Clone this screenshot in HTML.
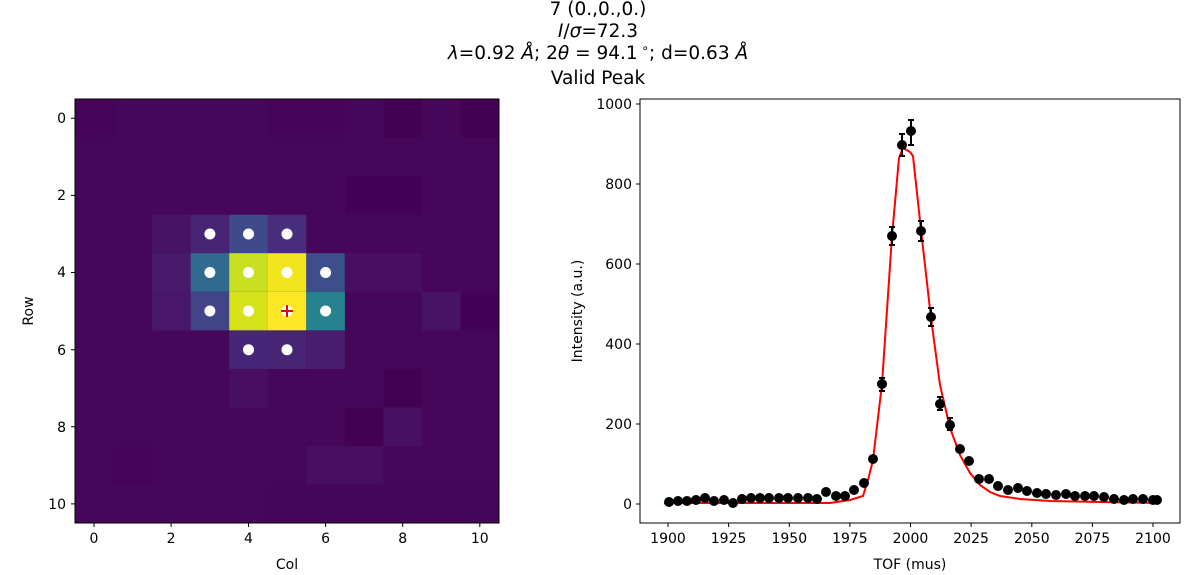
<!DOCTYPE html>
<html><head><meta charset="utf-8"><style>body{margin:0;background:#fff}svg{display:block}text{font-family:"DejaVu Sans","Liberation Sans",sans-serif;fill:#000}</style></head><body>
<svg width="1188" height="575" viewBox="0 0 1188 575" xmlns="http://www.w3.org/2000/svg">
<g font-size="18.5" text-anchor="middle">
<text x="598" y="15">7 (0.,0.,0.)</text>
<text x="598" y="37"><tspan font-style="italic">I</tspan>/<tspan font-style="italic">σ</tspan>=72.3</text>
<text x="598" y="59" text-anchor="middle"><tspan font-style="italic">λ</tspan>=0.92 <tspan font-style="italic">Å</tspan>; 2<tspan font-style="italic">θ</tspan> = 94.1<tspan font-size="12" dy="-7"> ∘</tspan><tspan dy="7">; d=0.63 </tspan><tspan font-style="italic">Å</tspan></text>
<text x="598" y="84">Valid Peak</text>
</g>
<rect x="75" y="99" width="424" height="424" fill="#46075a"/>
<g>
<rect x="75" y="99" width="38.6" height="38.6" fill="#450457"/>
<rect x="267.7" y="99" width="77.1" height="38.6" fill="#450457"/>
<rect x="383.4" y="99" width="38.6" height="38.6" fill="#440154"/>
<rect x="460.5" y="99" width="38.6" height="38.6" fill="#440154"/>
<rect x="344.8" y="176.1" width="77.1" height="38.6" fill="#440256"/>
<rect x="152.1" y="214.7" width="38.6" height="38.6" fill="#471365"/>
<rect x="190.7" y="214.7" width="38.6" height="38.6" fill="#482475"/>
<rect x="229.2" y="214.7" width="38.6" height="38.6" fill="#3e4a89"/>
<rect x="267.7" y="214.7" width="38.6" height="38.6" fill="#472d7b"/>
<rect x="152.1" y="253.2" width="38.6" height="38.6" fill="#481a6c"/>
<rect x="190.7" y="253.2" width="38.6" height="38.6" fill="#306a8e"/>
<rect x="229.2" y="253.2" width="38.6" height="38.6" fill="#c8e020"/>
<rect x="267.7" y="253.2" width="38.6" height="38.6" fill="#f1e51d"/>
<rect x="306.3" y="253.2" width="38.6" height="38.6" fill="#3c4f8a"/>
<rect x="344.8" y="253.2" width="77.1" height="38.6" fill="#470e61"/>
<rect x="152.1" y="291.8" width="38.6" height="38.6" fill="#481769"/>
<rect x="190.7" y="291.8" width="38.6" height="38.6" fill="#414487"/>
<rect x="229.2" y="291.8" width="38.6" height="38.6" fill="#d6e21a"/>
<rect x="267.7" y="291.8" width="38.6" height="38.6" fill="#fde725"/>
<rect x="306.3" y="291.8" width="38.6" height="38.6" fill="#26828e"/>
<rect x="421.9" y="291.8" width="38.6" height="38.6" fill="#471365"/>
<rect x="460.5" y="291.8" width="38.6" height="38.6" fill="#440256"/>
<rect x="229.2" y="330.4" width="38.6" height="38.6" fill="#482677"/>
<rect x="267.7" y="330.4" width="38.6" height="38.6" fill="#482475"/>
<rect x="306.3" y="330.4" width="38.6" height="38.6" fill="#481c6e"/>
<rect x="229.2" y="368.9" width="38.6" height="38.6" fill="#470e61"/>
<rect x="383.4" y="368.9" width="38.6" height="38.6" fill="#440154"/>
<rect x="344.8" y="407.5" width="38.6" height="38.6" fill="#440154"/>
<rect x="383.4" y="407.5" width="38.6" height="38.6" fill="#471063"/>
<rect x="113.6" y="446" width="38.6" height="38.6" fill="#450457"/>
<rect x="306.3" y="446" width="77.1" height="38.6" fill="#470e61"/>
<rect x="267.7" y="484.6" width="231.3" height="38.4" fill="#450559"/>
</g>
<g fill="#fff">
<circle cx="209.9" cy="234" r="5.5"/><circle cx="248.5" cy="234" r="5.5"/><circle cx="287" cy="234" r="5.5"/>
<circle cx="209.9" cy="272.5" r="5.5"/><circle cx="248.5" cy="272.5" r="5.5"/><circle cx="287" cy="272.5" r="5.5"/><circle cx="325.6" cy="272.5" r="5.5"/>
<circle cx="209.9" cy="311" r="5.5"/><circle cx="248.5" cy="311" r="5.5"/><circle cx="287" cy="311" r="5.5"/><circle cx="325.6" cy="311" r="5.5"/>
<circle cx="248.5" cy="349.7" r="5.5"/><circle cx="287" cy="349.7" r="5.5"/>
</g>
<path d="M281 311h12M287 305v12" stroke="#e00" stroke-width="2"/>
<rect x="75" y="99" width="424" height="424" fill="none" stroke="#000" stroke-width="1"/>
<g stroke="#000" stroke-width="1">
<path d="M94 523v4M171.1 523v4M248.5 523v4M325.6 523v4M402.7 523v4M479.8 523v4"/>
<path d="M75 118.3h-4M75 195.4h-4M75 272.5h-4M75 349.7h-4M75 426.8h-4M75 503.9h-4"/>
</g>
<g font-size="14" text-anchor="middle">
<text x="94" y="543">0</text><text x="171.1" y="543">2</text><text x="248.5" y="543">4</text><text x="325.6" y="543">6</text><text x="402.7" y="543">8</text><text x="479.8" y="543">10</text>
<text x="287" y="569">Col</text>
</g>
<g font-size="14" text-anchor="end">
<text x="66" y="123">0</text><text x="66" y="200">2</text><text x="66" y="277">4</text><text x="66" y="355">6</text><text x="66" y="432">8</text><text x="66" y="509">10</text>
</g>
<text font-size="14" text-anchor="middle" transform="translate(33,311) rotate(-90)">Row</text>
<rect x="640" y="99" width="540" height="424" fill="none" stroke="#000" stroke-width="1"/>
<g stroke="#000" stroke-width="1">
<path d="M668 523v4M728.6 523v4M789.3 523v4M849.9 523v4M910.5 523v4M971.1 523v4M1031.8 523v4M1092.4 523v4M1153 523v4"/>
<path d="M640 504h-4M640 424h-4M640 344h-4M640 264h-4M640 184h-4M640 104h-4"/>
</g>
<g font-size="14" text-anchor="middle">
<text x="668" y="543">1900</text><text x="728.6" y="543">1925</text><text x="789.3" y="543">1950</text><text x="849.9" y="543">1975</text><text x="910.5" y="543">2000</text><text x="971.1" y="543">2025</text><text x="1031.8" y="543">2050</text><text x="1092.4" y="543">2075</text><text x="1153" y="543">2100</text>
<text x="910" y="569">TOF (mus)</text>
</g>
<g font-size="14" text-anchor="end">
<text x="632" y="509">0</text><text x="632" y="429">200</text><text x="632" y="349">400</text><text x="632" y="269">600</text><text x="632" y="189">800</text><text x="632" y="109">1000</text>
</g>
<text font-size="14" text-anchor="middle" transform="translate(582,311) rotate(-90)">Intensity (a.u.)</text>
<polyline fill="none" stroke="#f00" stroke-width="2" points="664,503 830,503 850,500 863,496 868,480 873,460 882,384 892,236 899,158 903,148 910,152 913,156 921,230 931,318 940,385 950,428 960,455 970,473 980,485 990,492 1000,496 1020,499 1050,501 1100,502 1157,503"/>
<g stroke="#000" stroke-width="2">
<path d="M882 378v13M879 378h6M879 391h6"/>
<path d="M892 227v18M889 227h6M889 245h6"/>
<path d="M902 134v22M899 134h6M899 156h6"/>
<path d="M911 120v25M908 120h6M908 145h6"/>
<path d="M921 221v20M918 221h6M918 241h6"/>
<path d="M931 308v18M928 308h6M928 326h6"/>
<path d="M940 397v13M937 397h6M937 410h6"/>
<path d="M950 418v12M947 418h6M947 430h6"/>
</g>
<g fill="#000">
<circle cx="669" cy="502" r="5"/><circle cx="678" cy="501" r="5"/><circle cx="687" cy="501" r="5"/><circle cx="696" cy="500" r="5"/><circle cx="705" cy="498" r="5"/><circle cx="714" cy="501" r="5"/><circle cx="724" cy="500" r="5"/><circle cx="733" cy="503" r="5"/><circle cx="742" cy="499" r="5"/><circle cx="751" cy="498" r="5"/><circle cx="760" cy="498" r="5"/><circle cx="769" cy="498" r="5"/><circle cx="779" cy="498" r="5"/><circle cx="788" cy="498" r="5"/><circle cx="798" cy="498" r="5"/><circle cx="808" cy="498" r="5"/><circle cx="817" cy="499" r="5"/><circle cx="826" cy="492" r="5"/><circle cx="836" cy="496" r="5"/><circle cx="845" cy="496" r="5"/><circle cx="854" cy="490" r="5"/><circle cx="864" cy="483" r="5"/><circle cx="873" cy="459" r="5"/><circle cx="882" cy="384" r="5"/><circle cx="892" cy="236" r="5"/><circle cx="902" cy="145" r="5"/><circle cx="911" cy="131" r="5"/><circle cx="921" cy="231" r="5"/><circle cx="931" cy="317" r="5"/><circle cx="940" cy="404" r="5"/><circle cx="950" cy="425" r="5"/><circle cx="960" cy="449" r="5"/><circle cx="969" cy="461" r="5"/><circle cx="979" cy="479" r="5"/><circle cx="989" cy="479" r="5"/><circle cx="998" cy="486" r="5"/><circle cx="1008" cy="490" r="5"/><circle cx="1018" cy="488" r="5"/><circle cx="1027" cy="491" r="5"/><circle cx="1037" cy="493" r="5"/><circle cx="1046" cy="494" r="5"/><circle cx="1056" cy="495" r="5"/><circle cx="1066" cy="494" r="5"/><circle cx="1075" cy="496" r="5"/><circle cx="1085" cy="496" r="5"/><circle cx="1094" cy="496" r="5"/><circle cx="1104" cy="497" r="5"/><circle cx="1114" cy="499" r="5"/><circle cx="1124" cy="500" r="5"/><circle cx="1133" cy="499" r="5"/><circle cx="1143" cy="499" r="5"/><circle cx="1153" cy="500" r="5"/><circle cx="1157" cy="500" r="5"/>
</g>
</svg>
</body></html>
